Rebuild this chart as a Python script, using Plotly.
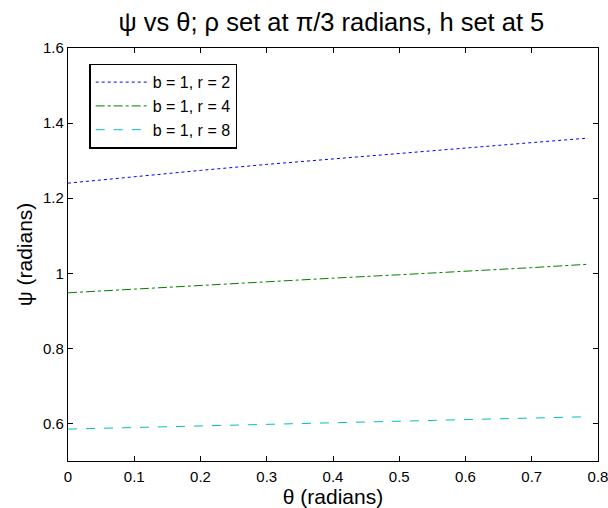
import plotly.graph_objects as go

theta = [0.0, 0.1, 0.2, 0.3, 0.4, 0.5, 0.6, 0.7, 0.785]
psi_r2 = [1.240, 1.258, 1.274, 1.290, 1.305, 1.320, 1.334, 1.348, 1.360]
psi_r4 = [0.948, 0.958, 0.968, 0.977, 0.987, 0.996, 1.005, 1.015, 1.024]
psi_r8 = [0.585, 0.589, 0.593, 0.597, 0.601, 0.605, 0.609, 0.614, 0.618]
names = ["b = 1, r = 2", "b = 1, r = 4", "b = 1, r = 8"]
colors = ["#0000ff", "#008000", "#00bfbf"]
dashes = ["dot", "dashdot", "dash"]
xticks = [0, 0.1, 0.2, 0.3, 0.4, 0.5, 0.6, 0.7, 0.8]
xticklabels = ["0", "0.1", "0.2", "0.3", "0.4", "0.5", "0.6", "0.7", "0.8"]
yticks = [0.6, 0.8, 1.0, 1.2, 1.4, 1.6]
yticklabels = ["0.6", "0.8", "1", "1.2", "1.4", "1.6"]

fig = go.Figure()
for ys, n, c, d in zip([psi_r2, psi_r4, psi_r8], names, colors, dashes):
    fig.add_trace(go.Scatter(x=theta, y=ys, mode="lines", name=n,
                             line=dict(color=c, dash=d, width=1)))

font = "Liberation Sans, Arial, Helvetica, sans-serif"
axis_common = dict(showgrid=False, zeroline=False, showline=True, linecolor="black",
                   linewidth=1.3, mirror="ticks", ticks="inside", ticklen=5,
                   tickcolor="black", automargin=False, ticklabeloverflow="allow",
                   tickfont=dict(size=15, color="black", family=font))
fig.update_layout(
    width=608, height=508,
    margin=dict(l=68, r=10, t=48, b=47),
    paper_bgcolor="white", plot_bgcolor="white",
    font=dict(family=font, color="black"),
    title=dict(text="ψ vs θ; ρ set at π/3 radians, h set at 5", x=0.545, xanchor="center",
               y=0.957, yanchor="middle", font=dict(size=25.5, color="black", family=font)),
    xaxis=dict(range=[0, 0.8], tickvals=xticks, ticktext=xticklabels, ticklabelstandoff=2,
               title=dict(text="θ (radians)", font=dict(size=21), standoff=3), **axis_common),
    yaxis=dict(range=[0.5, 1.6], tickvals=yticks, ticktext=yticklabels,
               title=dict(text="ψ (radians)", font=dict(size=21), standoff=4), **axis_common),
    legend=dict(x=0.04, y=0.962, xanchor="left", yanchor="top", bgcolor="white",
                bordercolor="black", borderwidth=1.5, font=dict(size=16, color="black"),
                tracegroupgap=0, itemwidth=52),
    showlegend=True,
)
fig.write_html("out.html", config={"displayModeBar": False},
               post_script="document.body.style.margin='0';document.body.style.overflow='hidden';")
